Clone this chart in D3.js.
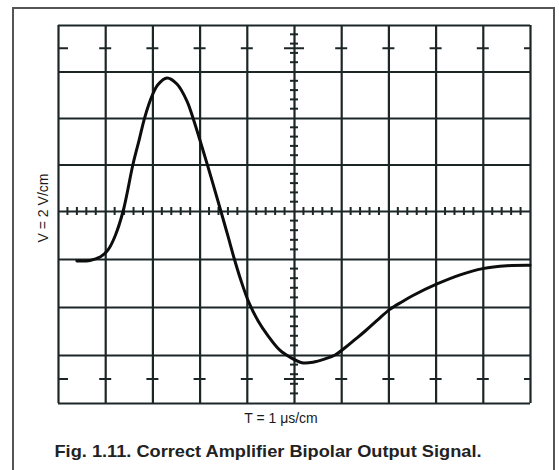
<!DOCTYPE html>
<html>
<head>
<meta charset="utf-8">
<script src="https://cdn.jsdelivr.net/npm/d3@7"></script>
<style>
  html, body { margin: 0; padding: 0; background: #fff; }
  svg { display: block; }
</style>
</head>
<body>
<div id="chart"></div>
<script>
// ---- data (divisions: time in cm, voltage in cm) ----
const timeDiv = [0.40, 0.68, 0.89, 1.06, 1.21, 1.38, 1.59, 1.72, 1.84, 1.99, 2.12, 2.31, 2.52, 2.73, 2.86, 3.16, 3.45, 3.60, 3.73, 3.88, 4.05, 4.24, 4.45, 4.70, 4.94, 5.17, 5.40, 5.66, 5.87, 6.08, 6.29, 6.51, 6.76, 7.03, 7.29, 7.52, 8.03, 8.52, 9.00, 9.51, 10.0];
const voltDiv = [-1.04, -1.03, -0.96, -0.81, -0.52, 0.00, 1.01, 1.53, 2.02, 2.47, 2.72, 2.86, 2.73, 2.37, 2.00, 1.01, 0.00, -0.52, -0.98, -1.46, -1.92, -2.29, -2.60, -2.90, -3.06, -3.16, -3.15, -3.08, -3.00, -2.85, -2.68, -2.50, -2.28, -2.05, -1.89, -1.76, -1.52, -1.33, -1.20, -1.14, -1.13];
const xMajor = d3.range(0, 11);
const yMajor = d3.range(-4, 5);
const xLabel = "T = 1 \u03BCs/cm";
const yLabel = "V = 2 V/cm";
const caption = "Fig. 1.11. Correct Amplifier Bipolar Output Signal.";

const W = 559, H = 470;
const svg = d3.select("#chart").append("svg").attr("width", W).attr("height", H);

// outer frame
svg.append("rect").attr("x", 13).attr("y", 8).attr("width", 541).attr("height", 480)
  .attr("fill", "#fff").attr("stroke", "#555").attr("stroke-width", 2);

const x = d3.scaleLinear().domain([0, 10]).range([58, 530]);
const y = d3.scaleLinear().domain([-4, 0, 4]).range([403, 211, 25]);

const gridColor = "#1c2626";
const g = svg.append("g");

// major grid via axes
const gx = g.append("g").attr("transform", `translate(0,${y(-4)})`)
  .call(d3.axisBottom(x).tickValues(xMajor).tickSize(-(y(-4) - y(4))).tickFormat(""));
const gy = g.append("g").attr("transform", `translate(${x(0)},0)`)
  .call(d3.axisLeft(y).tickValues(yMajor).tickSize(-(x(10) - x(0))).tickFormat(""));
[gx, gy].forEach(a => {
  a.select(".domain").remove();
  a.selectAll(".tick line").attr("stroke", gridColor).attr("stroke-width", 2.2);
});

// minor ticks on the centre horizontal line
const xMinor = d3.range(0, 51).map(i => i / 5).filter((v, i) => i % 5 !== 0);
g.selectAll("line.xminor").data(xMinor).join("line")
  .attr("x1", d => x(d)).attr("x2", d => x(d))
  .attr("y1", y(0) - 4).attr("y2", y(0) + 4)
  .attr("stroke", gridColor).attr("stroke-width", 2);

// minor ticks on the centre vertical line
const yMinor = d3.range(-20, 21).map(i => i / 5).filter((v, i) => (i - 20) % 5 !== 0);
g.selectAll("line.yminor").data(yMinor).join("line")
  .attr("x1", x(5) - 4).attr("x2", x(5) + 4)
  .attr("y1", d => y(d)).attr("y2", d => y(d))
  .attr("stroke", gridColor).attr("stroke-width", 2);

// half-division markers in the top and bottom rows
const markRows = [3.5, -3.5];
markRows.forEach(r => {
  g.selectAll(null).data(xMajor).join("line")
    .attr("x1", d => d === 0 ? x(d) : x(d) - (d === 5 ? 10 : 6))
    .attr("x2", d => d === 10 ? x(d) : x(d) + (d === 5 ? 10 : 6) + (d === 0 ? 4 : 0))
    .attr("y1", y(r)).attr("y2", y(r))
    .attr("stroke", gridColor).attr("stroke-width", 2);
});

// signal trace
const pts = timeDiv.map((t, i) => [t, voltDiv[i]]);
svg.append("path").datum(pts)
  .attr("d", d3.line().x(d => x(d[0])).y(d => y(d[1])).curve(d3.curveCatmullRom.alpha(0.5)))
  .attr("fill", "none").attr("stroke", "#0d0d0d").attr("stroke-width", 3)
  .attr("stroke-linecap", "round").attr("stroke-linejoin", "round");

// labels
svg.append("text").attr("x", 281).attr("y", 423).attr("text-anchor", "middle")
  .attr("font-family", "Liberation Sans, Arial, sans-serif").attr("font-size", 14)
  .attr("fill", "#1a1a1a").text(xLabel);
svg.append("text").attr("transform", "translate(48,208) rotate(-90)").attr("text-anchor", "middle")
  .attr("font-family", "Liberation Sans, Arial, sans-serif").attr("font-size", 14)
  .attr("fill", "#1a1a1a").text(yLabel);
svg.append("text").attr("x", 268).attr("y", 457).attr("text-anchor", "middle")
  .attr("font-family", "Liberation Sans, Arial, sans-serif").attr("font-size", 17).attr("font-weight", "bold")
  .attr("textLength", 427).attr("lengthAdjust", "spacingAndGlyphs")
  .attr("fill", "#222").text(caption);
</script>
</body>
</html>
